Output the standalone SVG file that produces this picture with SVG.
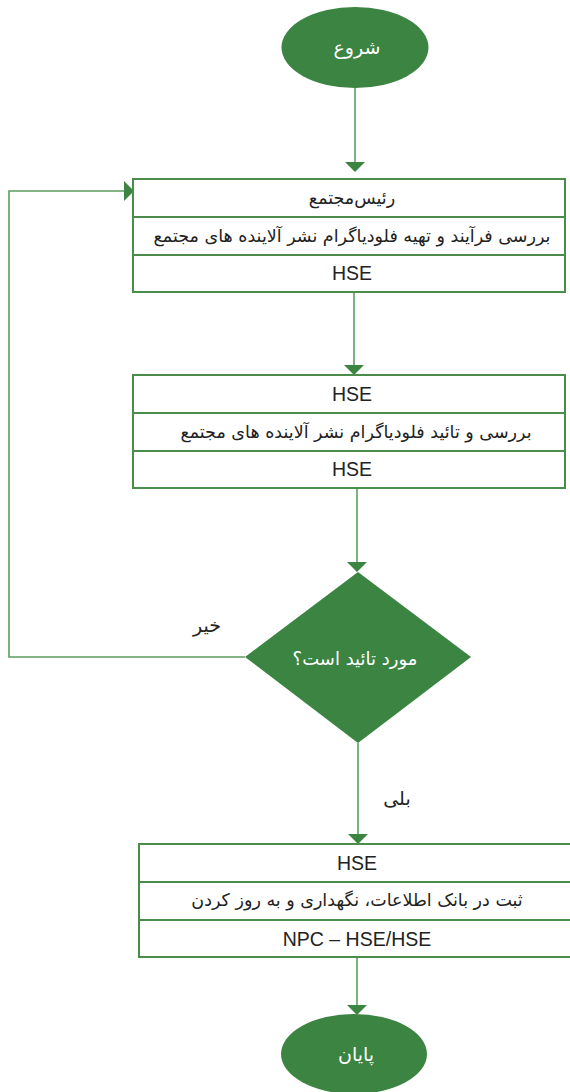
<svg xmlns="http://www.w3.org/2000/svg" width="570" height="1092" viewBox="0 0 570 1092">
<style>
.term{fill:#3b8441;stroke:none}
.box{fill:#fff;stroke:#4a8d4a;stroke-width:2}
.div{stroke:#4a8d4a;stroke-width:2}
.conn{fill:none;stroke:#5e9d5e;stroke-width:1.6}
.t{font-family:"DejaVu Sans","Noto Sans",sans-serif;fill:#222;text-anchor:middle;dominant-baseline:central}
.w{fill:#fff}
.lat{font-family:"Liberation Sans",Arial,sans-serif;font-size:19.5px}
.fa{font-size:17.5px}
</style>
<defs>
<marker id="ahd" markerWidth="10" markerHeight="20" refX="9" refY="10" orient="auto" markerUnits="userSpaceOnUse" viewBox="0 0 10 20">
<path d="M0,0 L10,10 L0,20 Z" fill="#3b8441"/>
</marker>
</defs>
<g id="connectors">
<path class="conn" d="M355,88 V171" marker-end="url(#ahd)"/>
<path class="conn" d="M354,292 V374" marker-end="url(#ahd)"/>
<path class="conn" d="M357,488 V571" marker-end="url(#ahd)"/>
<path class="conn" d="M245,657 H9 V191 H133" marker-end="url(#ahd)"/>
<path class="conn" d="M358,743 V843" marker-end="url(#ahd)"/>
<path class="conn" d="M357,957 V1014" marker-end="url(#ahd)"/>
<text class="t" x="207" y="625" font-size="19">خیر</text>
<text class="t" x="397" y="798" font-size="19">بلی</text>
</g>
<g id="start">
<ellipse class="term" cx="355" cy="47.5" rx="73.5" ry="40.5"/>
<text class="t w" x="357" y="47" font-size="19">شروع</text>
</g>
<g id="step1">
<rect class="box" x="133" y="179" width="432" height="113"/>
<line class="div" x1="133" y1="217" x2="565" y2="217"/>
<line class="div" x1="133" y1="255" x2="565" y2="255"/>
<text class="t fa" x="352" y="198">رئیس‌مجتمع</text>
<text class="t fa" x="352" y="236">بررسی فرآیند و تهیه فلودیاگرام نشر آلاینده های مجتمع</text>
<text class="t lat" x="352" y="273">HSE</text>
</g>
<g id="step2">
<rect class="box" x="133" y="375" width="432" height="113"/>
<line class="div" x1="133" y1="413" x2="565" y2="413"/>
<line class="div" x1="133" y1="451" x2="565" y2="451"/>
<text class="t lat" x="352" y="394">HSE</text>
<text class="t fa" x="356" y="432">بررسی و تائید فلودیاگرام نشر آلاینده های مجتمع</text>
<text class="t lat" x="352" y="469">HSE</text>
</g>
<g id="decision">
<polygon class="term" points="358,572 471,657 358,743 245,657"/>
<text class="t w" x="355" y="658" font-size="18">مورد تائید است؟</text>
</g>
<g id="step3">
<rect class="box" x="139" y="844" width="436" height="113"/>
<line class="div" x1="139" y1="882" x2="575" y2="882"/>
<line class="div" x1="139" y1="920" x2="575" y2="920"/>
<text class="t lat" x="357" y="863">HSE</text>
<text class="t fa" x="357" y="900">ثبت در بانک اطلاعات، نگهداری و به روز کردن</text>
<text class="t lat" x="357" y="939">NPC – HSE/HSE</text>
</g>
<g id="end">
<ellipse class="term" cx="354" cy="1054" rx="73" ry="40"/>
<text class="t w" x="356" y="1054" font-size="19">پایان</text>
</g>
</svg>
